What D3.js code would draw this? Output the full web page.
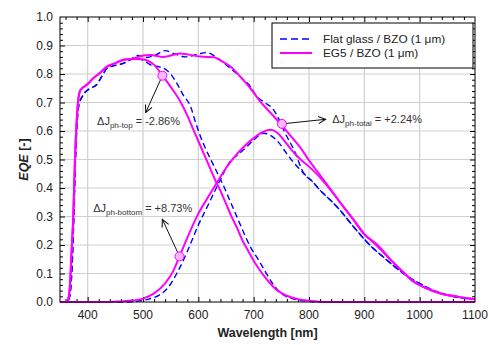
<!DOCTYPE html>
<html>
<head>
<meta charset="utf-8">
<script src="https://cdn.jsdelivr.net/npm/d3@7"></script>
<style>
  body { margin: 0; background: #fff; }
  svg text { font-family: "Liberation Sans", Arial, sans-serif; }
</style>
</head>
<body>
<div id="chart"></div>
<script>
// ---- data ----
const xTicks = [400, 500, 600, 700, 800, 900, 1000, 1100];
const yTicks = [0.0, 0.1, 0.2, 0.3, 0.4, 0.5, 0.6, 0.7, 0.8, 0.9, 1.0];

// top cell, EG5 (magenta)
const wlTopEG5  = [350, 362, 366, 368, 371, 374, 377, 380, 383, 386, 390, 395, 400, 410, 420, 435, 450, 465, 480, 500, 510, 520, 535, 550, 567, 580, 591, 600, 610, 620, 630, 640, 650, 660, 670, 680, 690, 700, 710, 720, 730, 740, 750, 760, 780, 800, 820, 840, 1100];
const eqeTopEG5 = [0, 0, 0.02, 0.06, 0.18, 0.30, 0.50, 0.63, 0.71, 0.74, 0.75, 0.757, 0.765, 0.785, 0.80, 0.826, 0.838, 0.85, 0.853, 0.852, 0.845, 0.832, 0.795, 0.755, 0.705, 0.655, 0.605, 0.565, 0.52, 0.475, 0.43, 0.39, 0.345, 0.30, 0.26, 0.215, 0.18, 0.145, 0.115, 0.088, 0.065, 0.045, 0.032, 0.022, 0.01, 0.004, 0.001, 0, 0];

// top cell, flat glass (blue)
const wlTopFlat  = [350, 362, 366, 369, 372, 375, 378, 381, 384, 390, 395, 405, 416, 425, 435, 445, 455, 465, 475, 490, 500, 516, 530, 540, 550, 561, 573, 586, 595, 604, 615, 625, 635, 645, 655, 665, 675, 685, 695, 709, 720, 736, 750, 765, 780, 800, 820, 1100];
const eqeTopFlat = [0, 0, 0.01, 0.04, 0.13, 0.30, 0.50, 0.63, 0.69, 0.72, 0.735, 0.75, 0.762, 0.79, 0.82, 0.828, 0.832, 0.838, 0.848, 0.855, 0.848, 0.83, 0.825, 0.817, 0.80, 0.768, 0.725, 0.686, 0.63, 0.58, 0.53, 0.49, 0.45, 0.41, 0.365, 0.32, 0.275, 0.23, 0.19, 0.147, 0.11, 0.06, 0.03, 0.015, 0.007, 0.002, 0, 0];

// bottom cell, EG5 (magenta)
const wlBotEG5  = [350, 440, 460, 480, 500, 520, 540, 555, 566, 580, 600, 615, 634, 650, 670, 685, 700, 715, 730, 742, 754, 768, 782, 800, 821, 839, 860, 880, 899, 924, 948, 970, 990, 1010, 1038, 1070, 1100];
const eqeBotEG5 = [0, 0, 0.002, 0.005, 0.012, 0.03, 0.065, 0.11, 0.16, 0.225, 0.31, 0.36, 0.42, 0.47, 0.52, 0.55, 0.575, 0.595, 0.604, 0.595, 0.569, 0.535, 0.505, 0.475, 0.435, 0.393, 0.34, 0.29, 0.24, 0.195, 0.147, 0.105, 0.07, 0.05, 0.03, 0.018, 0.01];

// bottom cell, flat glass (blue)
const wlBotFlat  = [350, 470, 490, 510, 530, 545, 561, 575, 585, 600, 610, 625, 640, 658, 670, 682, 700, 718, 730, 745, 760, 772, 791, 805, 821, 840, 857, 880, 905, 918, 930, 948, 965, 978, 1000, 1020, 1040, 1060, 1080, 1100];
const eqeBotFlat = [0, 0, 0.003, 0.01, 0.025, 0.05, 0.10, 0.155, 0.20, 0.27, 0.31, 0.37, 0.43, 0.495, 0.515, 0.535, 0.568, 0.592, 0.585, 0.56, 0.52, 0.49, 0.45, 0.425, 0.39, 0.355, 0.32, 0.265, 0.21, 0.185, 0.165, 0.135, 0.108, 0.09, 0.065, 0.045, 0.03, 0.02, 0.013, 0.01];

// total, EG5 (magenta)
const wlTotEG5  = [350, 362, 366, 368, 371, 374, 377, 380, 383, 386, 390, 395, 400, 410, 420, 435, 450, 465, 480, 501, 513, 537, 567, 604, 628, 640, 658, 676, 694, 712, 730, 751, 768, 785, 800, 821, 839, 860, 880, 899, 924, 948, 970, 990, 1010, 1038, 1070, 1100];
const eqeTotEG5 = [0, 0, 0.02, 0.06, 0.18, 0.30, 0.50, 0.63, 0.71, 0.74, 0.75, 0.757, 0.765, 0.785, 0.80, 0.826, 0.838, 0.85, 0.853, 0.865, 0.867, 0.86, 0.872, 0.861, 0.859, 0.848, 0.826, 0.79, 0.75, 0.703, 0.665, 0.62, 0.58, 0.54, 0.497, 0.443, 0.395, 0.34, 0.29, 0.24, 0.2, 0.147, 0.105, 0.07, 0.05, 0.03, 0.018, 0.01];

// total, flat glass (blue)
const wlTotFlat  = [350, 362, 366, 369, 372, 375, 378, 381, 384, 390, 395, 405, 416, 425, 435, 445, 455, 465, 475, 490, 507, 524, 540, 555, 577, 600, 616, 630, 645, 658, 676, 694, 706, 720, 736, 746, 755, 773, 791, 805, 812, 821, 840, 857, 880, 905, 912, 918, 930, 948, 965, 978, 1000, 1020, 1040, 1060, 1080, 1100];
const eqeTotFlat = [0, 0, 0.01, 0.04, 0.13, 0.30, 0.50, 0.63, 0.69, 0.72, 0.735, 0.75, 0.762, 0.79, 0.82, 0.828, 0.832, 0.838, 0.848, 0.865, 0.858, 0.868, 0.882, 0.872, 0.86, 0.87, 0.875, 0.862, 0.84, 0.82, 0.79, 0.756, 0.72, 0.70, 0.674, 0.64, 0.60, 0.533, 0.45, 0.425, 0.41, 0.39, 0.355, 0.32, 0.265, 0.21, 0.195, 0.185, 0.165, 0.135, 0.108, 0.09, 0.065, 0.045, 0.03, 0.02, 0.013, 0.01];

// highlighted points and their notes
const markWl  = [535, 566, 751];
const markEqe = [0.794, 0.16, 0.625];
const tipWl   = [505, 535, 830];
const tipEqe  = [0.665, 0.29, 0.641];
const noteWl  = [417, 410, 842];
const noteEqe = [0.62, 0.316, 0.627];
const noteSub = ["ph-top", "ph-bottom", "ph-total"];
const noteVal = [" = -2.86%", " = +8.73%", " = +2.24%"];

const legendLabels = ["Flat glass / BZO (1 \u03bcm)", "EG5 / BZO (1 \u03bcm)"];

// ---- chart ----
const W = 489, H = 345;
const margin = {left: 60, right: 14, top: 17, bottom: 43};
const iw = W - margin.left - margin.right;
const ih = H - margin.top - margin.bottom;

const svg = d3.select("#chart").append("svg").attr("width", W).attr("height", H);
const g = svg.append("g").attr("transform", "translate(" + margin.left + "," + margin.top + ")");

const x = d3.scaleLinear().domain([350, 1100]).range([0, iw]);
const y = d3.scaleLinear().domain([0, 1]).range([ih, 0]);

// grid
g.append("g").selectAll("line").data(xTicks.slice(0, -1)).join("line")
  .attr("x1", d => x(d)).attr("x2", d => x(d)).attr("y1", 0).attr("y2", ih)
  .attr("stroke", "#d0d0d0").attr("stroke-width", 1.2);
g.append("g").selectAll("line").data(yTicks.slice(1, -1)).join("line")
  .attr("x1", 0).attr("x2", iw).attr("y1", d => y(d)).attr("y2", d => y(d))
  .attr("stroke", "#d0d0d0").attr("stroke-width", 1.2);

// axes with inward ticks
const minorX = d3.range(360, 1100, 20).filter(v => v % 100 !== 0);
const minorY = d3.range(0.02, 1.0, 0.02).filter(v => Math.abs(v * 10 - Math.round(v * 10)) > 1e-6);

function tickAxis(axisFn, scale, major, minor, transform) {
  const a = g.append("g").attr("transform", transform);
  a.call(axisFn(scale).tickValues(major).tickSize(-5).tickFormat(""));
  a.call(s => s.select(".domain").remove());
  a.selectAll("line").attr("stroke", "#000");
  const b = g.append("g").attr("transform", transform);
  b.call(axisFn(scale).tickValues(minor).tickSize(-3).tickFormat(""));
  b.call(s => s.select(".domain").remove());
  b.selectAll("line").attr("stroke", "#000");
}
const xMajor = [400, 500, 600, 700, 800, 900, 1000];
tickAxis(d3.axisBottom, x, xMajor, minorX, "translate(0," + ih + ")");
tickAxis(d3.axisTop, x, xMajor, minorX, "translate(0,0)");
tickAxis(d3.axisLeft, y, yTicks.slice(1, -1), minorY, "translate(0,0)");
tickAxis(d3.axisRight, y, yTicks.slice(1, -1), minorY, "translate(" + iw + ",0)");

// tick labels
g.append("g").selectAll("text").data(xTicks).join("text")
  .attr("x", d => x(d)).attr("y", ih + 17).attr("text-anchor", "middle")
  .attr("fill", "#222").style("font-size", "12px").text(d => d);
g.append("g").selectAll("text").data(yTicks).join("text")
  .attr("x", -7).attr("y", d => y(d) + 4).attr("text-anchor", "end")
  .attr("fill", "#222").style("font-size", "12px").text(d => d.toFixed(1));

// curves
const line = d3.line().x(d => x(d[0])).y(d => y(d[1])).curve(d3.curveMonotoneX);
const zip = (a, b) => a.map((v, i) => [v, b[i]]);

const blue = [zip(wlTopFlat, eqeTopFlat), zip(wlBotFlat, eqeBotFlat), zip(wlTotFlat, eqeTotFlat)];
const pink = [zip(wlTopEG5, eqeTopEG5), zip(wlBotEG5, eqeBotEG5), zip(wlTotEG5, eqeTotEG5)];

svg.append("clipPath").attr("id", "plot").append("rect").attr("width", iw).attr("height", ih + 1);

g.append("g").attr("clip-path", "url(#plot)").selectAll("path").data(blue).join("path")
  .attr("d", line).attr("fill", "none").attr("stroke", "#0000ff")
  .attr("stroke-width", 1.4).attr("stroke-dasharray", "6,3.5");
g.append("g").attr("clip-path", "url(#plot)").selectAll("path").data(pink).join("path")
  .attr("d", line).attr("fill", "none").attr("stroke", "#ff00ff")
  .attr("stroke-width", 2);

// frame
g.append("rect").attr("width", iw).attr("height", ih).attr("fill", "none").attr("stroke", "#000").attr("stroke-width", 1);

// arrows
svg.append("defs").append("marker").attr("id", "arr")
  .attr("viewBox", "0 0 10 10").attr("refX", 9).attr("refY", 5)
  .attr("markerWidth", 9).attr("markerHeight", 9).attr("orient", "auto")
  .attr("markerUnits", "userSpaceOnUse")
  .append("path").attr("d", "M1,1 L9,5 L1,9").attr("fill", "none").attr("stroke", "#111").attr("stroke-width", 1.2);

g.append("g").selectAll("line").data(markWl).join("line")
  .attr("x1", d => x(d)).attr("y1", (d, i) => y(markEqe[i]))
  .attr("x2", (d, i) => x(tipWl[i])).attr("y2", (d, i) => y(tipEqe[i]))
  .attr("stroke", "#111").attr("stroke-width", 1).attr("marker-end", "url(#arr)");

g.append("g").selectAll("circle").data(markWl).join("circle")
  .attr("cx", d => x(d)).attr("cy", (d, i) => y(markEqe[i])).attr("r", 4.5)
  .attr("fill", "#ffb8ff").attr("stroke", "#ff00ff").attr("stroke-width", 1);

const notes = g.append("g").selectAll("text").data(noteWl).join("text")
  .attr("x", d => x(d)).attr("y", (d, i) => y(noteEqe[i]))
  .attr("fill", "#333").style("font-size", "11px");
notes.append("tspan").text("\u0394J");
notes.append("tspan").attr("dy", 3).style("font-size", "8px").text((d, i) => noteSub[i]);
notes.append("tspan").attr("dy", -3).text((d, i) => noteVal[i]);

// legend
const lg = svg.append("g").attr("transform", "translate(272,23)");
lg.append("rect").attr("width", 201).attr("height", 45).attr("fill", "#fff").attr("stroke", "#000").attr("stroke-width", 1);
lg.append("line").attr("x1", 8).attr("x2", 40).attr("y1", 16).attr("y2", 16)
  .attr("stroke", "#0000ff").attr("stroke-width", 1.4).attr("stroke-dasharray", "7,4");
lg.append("line").attr("x1", 8).attr("x2", 40).attr("y1", 30).attr("y2", 30)
  .attr("stroke", "#ff00ff").attr("stroke-width", 2);
lg.selectAll("text").data(legendLabels).join("text")
  .attr("x", 51).attr("y", (d, i) => 20 + i * 14)
  .attr("fill", "#222").style("font-size", "11.8px").text(d => d);

// axis titles
svg.append("text").attr("x", margin.left + iw / 2).attr("y", 337).attr("text-anchor", "middle")
  .style("font-size", "12.5px").style("font-weight", "bold").attr("fill", "#222").text("Wavelength [nm]");
const yt = svg.append("text").attr("transform", "translate(28," + (margin.top + ih / 2) + ") rotate(-90)")
  .attr("text-anchor", "middle").style("font-size", "12.5px").style("font-weight", "bold").attr("fill", "#222");
yt.append("tspan").style("font-style", "italic").text("EQE");
yt.append("tspan").text(" [-]");
</script>
</body>
</html>
